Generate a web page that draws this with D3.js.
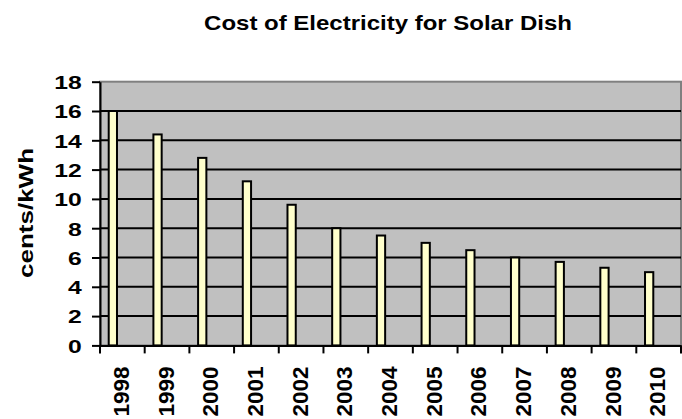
<!DOCTYPE html>
<html>
<head>
<meta charset="utf-8">
<script src="https://cdn.jsdelivr.net/npm/d3@7"></script>
<style>
  html, body { margin: 0; padding: 0; background: #fff; }
  svg { display: block; font-family: Arial, "Liberation Sans", sans-serif; }
</style>
</head>
<body>
<svg id="chart" width="682" height="419"></svg>
<script>
// ── data ─────────────────────────────────────
const years  = ["1998","1999","2000","2001","2002","2003","2004","2005","2006","2007","2008","2009","2010"];
const cents  = [16, 14.4, 12.8, 11.2, 9.6, 8.0, 7.5, 7.0, 6.5, 6.0, 5.7, 5.3, 5.0];
const yTicks = [0, 2, 4, 6, 8, 10, 12, 14, 16, 18];

const TITLE  = "Cost of Electricity for Solar Dish";
const Y_LABEL = "cents/kWh";

// lettering in the source is widened along its own baseline
const widen = s => `scale(${s},1)`;

const plot = { left: 100, right: 681, top: 81.7, bottom: 345.4 };

const svg = d3.select("#chart");

const x = d3.scaleBand().domain(years).range([plot.left, plot.right]).padding(0);
const y = d3.scaleLinear().domain([0, 18]).range([plot.bottom, plot.top]);

// plot background
svg.append("rect")
  .attr("x", plot.left).attr("y", plot.top)
  .attr("width", plot.right - plot.left).attr("height", plot.bottom - plot.top)
  .attr("fill", "#c0c0c0")
  .attr("stroke", "#808080").attr("stroke-width", 2);

// gridlines
svg.append("g")
  .selectAll("line")
  .data(yTicks.filter(d => d > 0 && d < 18))
  .join("line")
    .attr("x1", plot.left).attr("x2", plot.right)
    .attr("y1", d => y(d)).attr("y2", d => y(d))
    .attr("stroke", "#000").attr("stroke-width", 2);

// bars (sit left of band centre, as in the Excel original)
const bw = x.bandwidth();
svg.append("g")
  .selectAll("rect")
  .data(years.map((yr, i) => ({ yr, v: cents[i] })))
  .join("rect")
    .attr("x", d => x(d.yr) + bw * 0.195)
    .attr("width", bw * 0.185)
    .attr("y", d => y(d.v))
    .attr("height", d => y(0) - y(d.v))
    .attr("fill", "#ffffcc")
    .attr("stroke", "#000").attr("stroke-width", 2);

// y axis
const yAxis = svg.append("g")
  .attr("transform", `translate(${plot.left},0)`)
  .call(d3.axisLeft(y).tickValues(yTicks).tickSize(8).tickSizeOuter(0));
yAxis.select(".domain").attr("stroke", "#000").attr("stroke-width", 2);
yAxis.selectAll(".tick line").attr("stroke", "#000").attr("stroke-width", 2);
yAxis.selectAll(".tick text")
  .attr("x", null)
  .attr("dy", "0.36em")
  .attr("transform", `translate(-18.3,0) ${widen(1.3)}`)
  .attr("fill", "#000")
  .style("font-size", "19px")
  .style("font-weight", "bold");

// x axis: labels centred on bands, ticks on band edges
const xAxis = svg.append("g")
  .attr("transform", `translate(0,${plot.bottom})`)
  .call(d3.axisBottom(x).tickSize(0).tickSizeOuter(0));
xAxis.select(".domain").attr("stroke", "#000").attr("stroke-width", 2);
xAxis.selectAll(".tick text")
  .attr("x", null).attr("y", null)
  .attr("text-anchor", "end")
  .attr("transform", "translate(-1.5,21) rotate(-90)")
  .attr("dy", "0.36em")
  .attr("fill", "#000")
  .style("font-size", "22.5px")
  .style("font-weight", "bold");

svg.append("g")
  .selectAll("line")
  .data(years.map(d => x(d)).concat([plot.right]))
  .join("line")
    .attr("x1", d => d).attr("x2", d => d)
    .attr("y1", plot.bottom).attr("y2", plot.bottom + 8)
    .attr("stroke", "#000").attr("stroke-width", 2);

// title
svg.append("text")
  .attr("transform", `translate(388,30) ${widen(1.2)}`)
  .attr("text-anchor", "middle")
  .style("font-size", "20px")
  .style("font-weight", "bold")
  .text(TITLE);

// y label
svg.append("text")
  .attr("transform", `translate(33,213) rotate(-90) ${widen(1.24)}`)
  .attr("text-anchor", "middle")
  .style("font-size", "21px")
  .style("font-weight", "bold")
  .text(Y_LABEL);
</script>
</body>
</html>
